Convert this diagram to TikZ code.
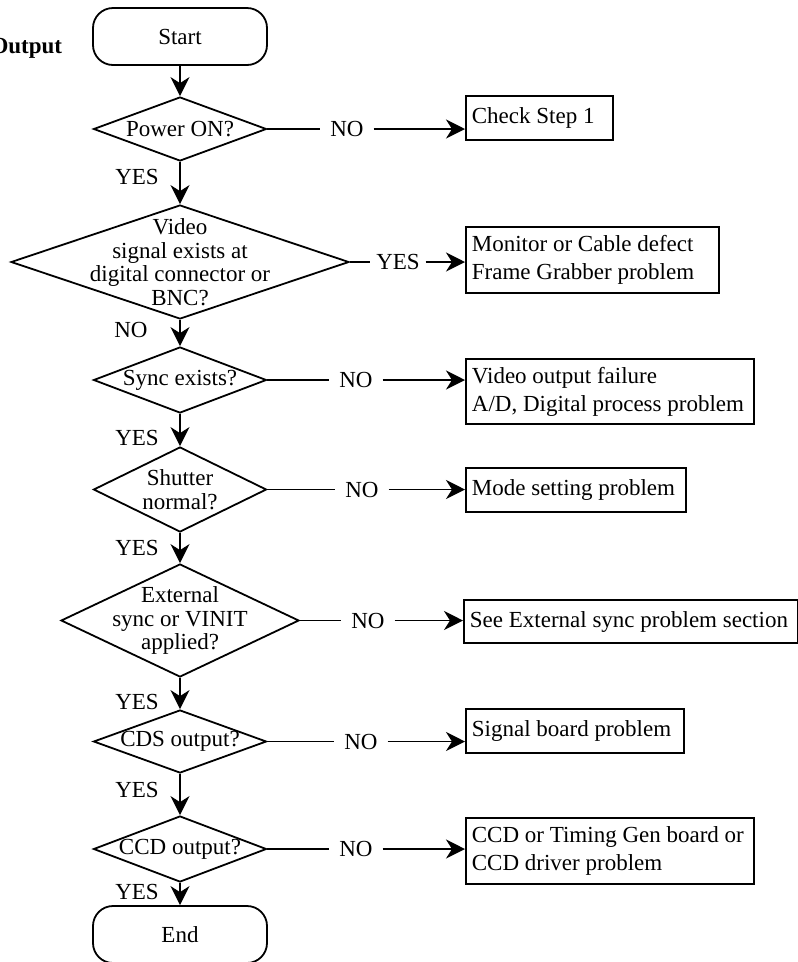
\documentclass[tikz,border=0pt]{standalone}
\usepackage{fontspec}
\setmainfont{Liberation Serif}
\usetikzlibrary{shapes.geometric,arrows.meta}

\begin{document}
\begin{tikzpicture}[x=1pt,y=-1pt,line width=1.8pt,
	>={Stealth[length=19pt,width=19pt,inset=6pt]},
	font=\fontsize{23pt}{28pt}\selectfont,
	term/.style={draw,rounded corners=20pt,minimum width=174pt,minimum height=57pt},
	dec/.style={draw,diamond,inner sep=0pt},
	dectext/.style={align=flush center,inner sep=0pt,font=\fontsize{23pt}{23.5pt}\selectfont},
	res/.style={draw,anchor=west,align=flush left,inner xsep=6pt,inner ysep=0pt},
	lbl/.style={inner xsep=9pt,inner ysep=2pt}]
		\useasboundingbox (0,0) rectangle (798,962);
		\clip (0,0) rectangle (798,962);

		\node (outlbl) at (63,53) [anchor=base east,inner sep=0pt] {\textbf{Output}};
		\node (start) at (180,36.5) [term] {Start};

		\node (d1) at (180,129) [dec,minimum width=173pt,minimum height=64pt] {};
		\node (q1) at (d1) [dectext] {Power ON?};
		\node (d2) at (180,262) [dec,minimum width=338pt,minimum height=114pt] {};
		\node (q2) at (d2) [dectext] {Video\\signal exists at\\digital connector or\\BNC?};
		\node (d3) at (180,380) [dec,minimum width=173pt,minimum height=66pt] {};
		\node (q3) at (d3) [dectext] {Sync exists?};
		\node (d4) at (180,489.5) [dec,minimum width=173pt,minimum height=85pt] {};
		\node (q4) at (d4) [dectext] {Shutter\\normal?};
		\node (d5) at (180,620.5) [dec,minimum width=238pt,minimum height=113pt] {};
		\node (q5) at (d5) [dectext] {External\\sync or VINIT\\applied?};
		\node (d6) at (180,741.5) [dec,minimum width=173pt,minimum height=63pt] {};
		\node (q6) at (d6) [dectext] {CDS output?};
		\node (d7) at (180,849) [dec,minimum width=173pt,minimum height=66pt] {};
		\node (q7) at (d7) [dectext] {CCD output?};
		\node (stop) at (180,934.5) [term] {End};

		\node (l1) at (137,177) {YES};
		\node (l2) at (131,330) {NO};
		\node (l3) at (137,438) {YES};
		\node (l4) at (137,548) {YES};
		\node (l5) at (137,702) {YES};
		\node (l6) at (137,790) {YES};
		\node (l7) at (137,892) {YES};

		\node (c1) at (465,118) [res,text width=135pt,minimum height=44pt] {Check Step 1};
		\node (c2) at (465,260) [res,text width=241pt,minimum height=66pt] {Monitor or Cable defect\\Frame Grabber problem};
		\node (c3) at (465,391.5) [res,text width=276pt,minimum height=65pt] {Video output failure\\A/D, Digital process problem};
		\node (c4) at (465,490) [res,text width=208pt,minimum height=44pt] {Mode setting problem};
		\node (c5) at (463,621.5) [res,text width=322pt,minimum height=43pt] {See External sync problem section};
		\node (c6) at (465,731) [res,text width=206pt,minimum height=44pt] {Signal board problem};
		\node (c7) at (465,851) [res,text width=276pt,minimum height=66pt] {CCD or Timing Gen board or\\CCD driver problem};

		\node (r1) at (347,129) [lbl] {NO};
		\node (r2) at (398,262) [lbl,inner xsep=5pt] {YES};
		\node (r3) at (356,380) [lbl] {NO};
		\node (r4) at (362,489.5) [lbl] {NO};
		\node (r5) at (368,620.5) [lbl] {NO};
		\node (r6) at (361,741.5) [lbl] {NO};
		\node (r7) at (356,849) [lbl] {NO};

		\draw[->] (start) -- (d1);
		\draw[->] (d1) -- (d2);
		\draw[->] (d2) -- (d3);
		\draw[->] (d3) -- (d4);
		\draw[->] (d4) -- (d5);
		\draw[->] (d5) -- (d6);
		\draw[->] (d6) -- (d7);
		\draw[->] (d7) -- (stop);

		\draw (d1.east) -- (r1);
		\draw[->] (r1) -- (c1.west |- r1);
		\draw (d2.east) -- (r2);
		\draw[->] (r2) -- (c2.west |- r2);
		\draw (d3.east) -- (r3);
		\draw[->] (r3) -- (c3.west |- r3);
		\draw (d4.east) -- (r4);
		\draw[->] (r4) -- (c4.west |- r4);
		\draw (d5.east) -- (r5);
		\draw[->] (r5) -- (c5.west |- r5);
		\draw (d6.east) -- (r6);
		\draw[->] (r6) -- (c6.west |- r6);
		\draw (d7.east) -- (r7);
		\draw[->] (r7) -- (c7.west |- r7);
\end{tikzpicture}
\end{document}
